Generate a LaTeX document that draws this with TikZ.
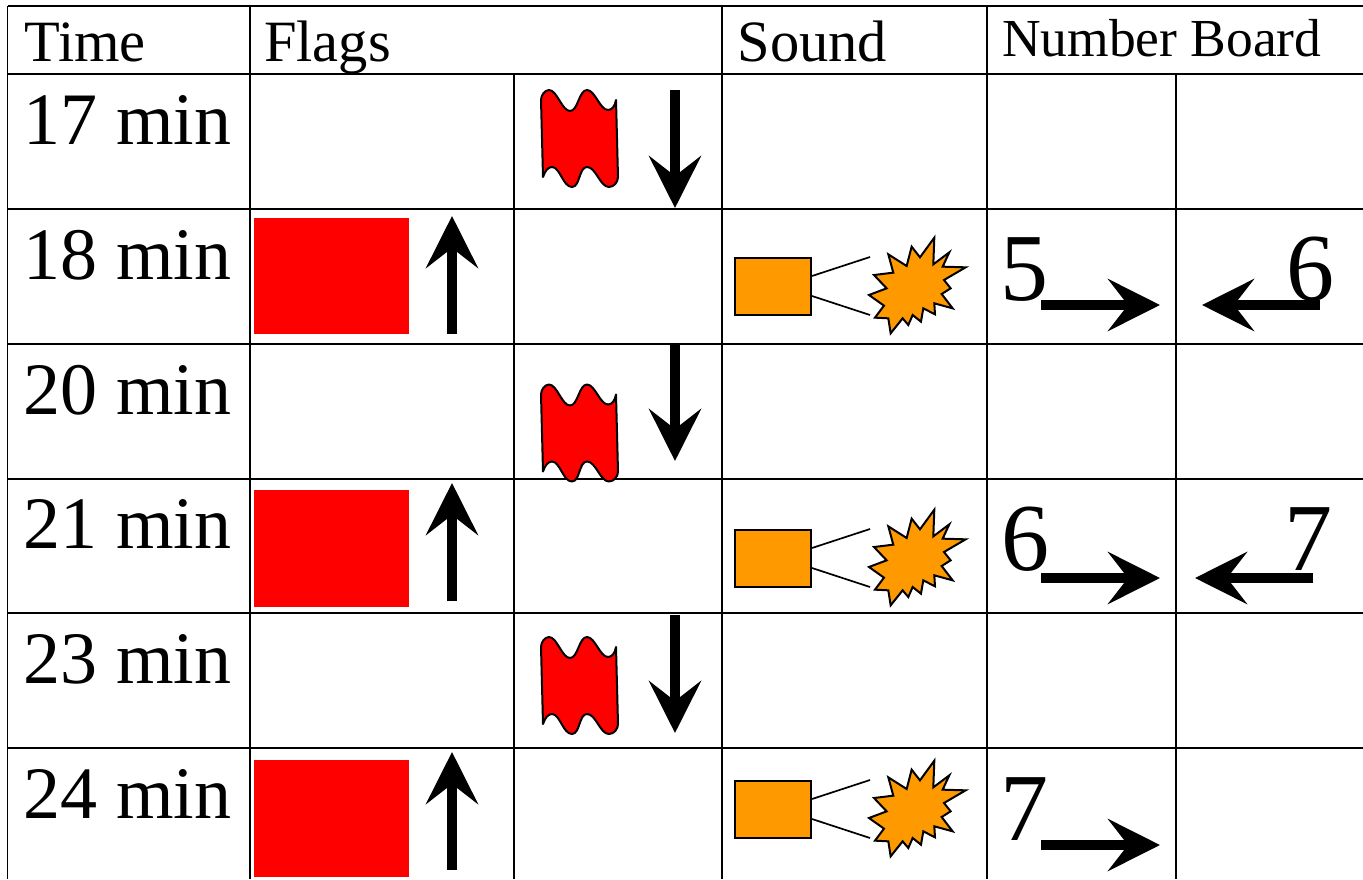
\documentclass[tikz,border=0pt]{standalone}
\usepackage{fontspec}
\setmainfont{Liberation Serif}
\usetikzlibrary{arrows.meta}
\tikzset{
  grid/.style={draw=black,line width=1.6pt},
  lbl/.style={anchor=base west,inner sep=0pt,outer sep=0pt,text=black},
  headsm/.style={lbl,font=\fontsize{58.5}{58.5}\selectfont},
  headnb/.style={lbl,font=\fontsize{53.5}{53.5}\selectfont},
  timet/.style={lbl,font=\fontsize{74}{74}\selectfont},
  numt/.style={lbl,font=\fontsize{96}{96}\selectfont},
  fat/.style={line width=10.5pt,-{Stealth[length=52pt,width=52pt,inset=20pt]}},
  redflag/.style={fill=red,draw=none},
  waveflag/.style={fill=red,draw=black,line width=2pt,line join=round},
  hornbox/.style={fill=soundorange,draw=black,line width=2pt},
  hornline/.style={draw=black,line width=1.7pt},
  burst/.style={fill=soundorange,draw=black,line width=2pt,line join=miter}
}
\definecolor{soundorange}{HTML}{FF9900}
\newcommand{\fatarrow}[3]{%
  \coordinate (#1s) at (#2);\coordinate (#1e) at (#3);
  \draw[fat] (#1s) -- (#1e);}
\newcommand{\wave}[1]{%
  \begin{scope}[yshift=#1]
  \path[waveflag] (541,100) .. controls (541,95) and (545,90) .. (549,90)
    .. controls (557,90) and (562,111) .. (570,111)
    .. controls (578,111) and (579,90) .. (587,90)
    .. controls (595,90) and (600,110) .. (608,110)
    .. controls (612,110) and (615,106) .. (616,100)
    -- (618,177)
    .. controls (618,182) and (614,187) .. (609,187)
    .. controls (600,187) and (596,167) .. (587,167)
    .. controls (579,167) and (580,187) .. (572,187)
    .. controls (563,187) and (560,167) .. (552,167)
    .. controls (548,167) and (545,171) .. (543,177) -- cycle;
  \end{scope}}
\newcommand{\horn}[1]{%
  \begin{scope}[yshift=#1]
  \path[hornbox] (735,258) rectangle (811.3,314.5);
  \path[hornline] (812,276) -- (870,257) (812,296) -- (870,315);
  \begin{scope}[shift={(720,225)},x=0.3333pt,y=-0.3333pt]
  \path[burst] (643,38)--(640,118)--(688,82)--(668,125)--(737,127)--(672,165)--(692,190)--(665,207)--(698,250)--(643,235)--(645,268)--(610,250)--(603,290)--(578,270)--(565,300)--(548,280)--(512,325)--(505,280)--(465,278)--(492,242)--(447,210)--(500,190)--(462,150)--(520,143)--(505,88)--(560,123)--(575,65)--(600,97)--cycle;
  \end{scope}
  \end{scope}}
\begin{document}
\begin{tikzpicture}[x=1pt,y=-1pt]
\useasboundingbox (0,0) rectangle (1363,879);
\fill[white] (0,0) rectangle (1363,879);
% grid
\path[grid] (7.5,6) -- (1363,6);
\foreach \yy in {74,209,344,479,613,748} \path[grid] (7.5,\yy) -- (1363,\yy);
\path[grid] (7.5,6) -- (7.5,879);
\foreach \xx in {250,722,987} \path[grid] (\xx,6) -- (\xx,879);
\foreach \xx in {514,1176} \path[grid] (\xx,74) -- (\xx,879);
% header
\node[headsm] (hTime) at (24.5,61) {Time};
\node[headsm] (hFlags) at (264,61) {Flags};
\node[headsm] (hSound) at (737.5,61) {Sound};
\node[headnb] (hNum) at (1002,56) {Number Board};
% times
\node[timet] (t17) at (23.5,144) {17 min};
\node[timet] (t18) at (23.5,279) {18 min};
\node[timet] (t20) at (23.5,414) {20 min};
\node[timet] (t21) at (23.5,548) {21 min};
\node[timet] (t23) at (23.5,683) {23 min};
\node[timet] (t24) at (23.5,818) {24 min};
% red flags
\path[redflag] (253.5,218) rectangle (409,334);
\path[redflag] (253.5,490) rectangle (409,607);
\path[redflag] (253.5,760) rectangle (409,877);
\wave{0pt}
\wave{-294.5pt}
\wave{-547pt}
% sound
\horn{0pt}
\horn{-272pt}
\horn{-523pt}
% numbers
\node[numt] (n5) at (1000,300) {5};
\node[numt] (n6a) at (1286,300) {6};
\node[numt] (n6b) at (1001,570) {6};
\node[numt] (n7a) at (1284,570) {7};
\node[numt] (n7b) at (1000,840) {7};
% arrows
\fatarrow{da}{675,90}{675,208}
\fatarrow{db}{675,344}{675,461}
\fatarrow{dc}{675,615}{675,733}
\fatarrow{ua}{452,334}{452,216}
\fatarrow{ub}{452,601}{452,483}
\fatarrow{uc}{452,870}{452,752}
\fatarrow{ra}{1041,305}{1160,305}
\fatarrow{rb}{1041,578}{1160,578}
\fatarrow{rc}{1041,845}{1160,845}
\fatarrow{la}{1320,305}{1202,305}
\fatarrow{lb}{1313,578}{1195,578}
\end{tikzpicture}
\end{document}
